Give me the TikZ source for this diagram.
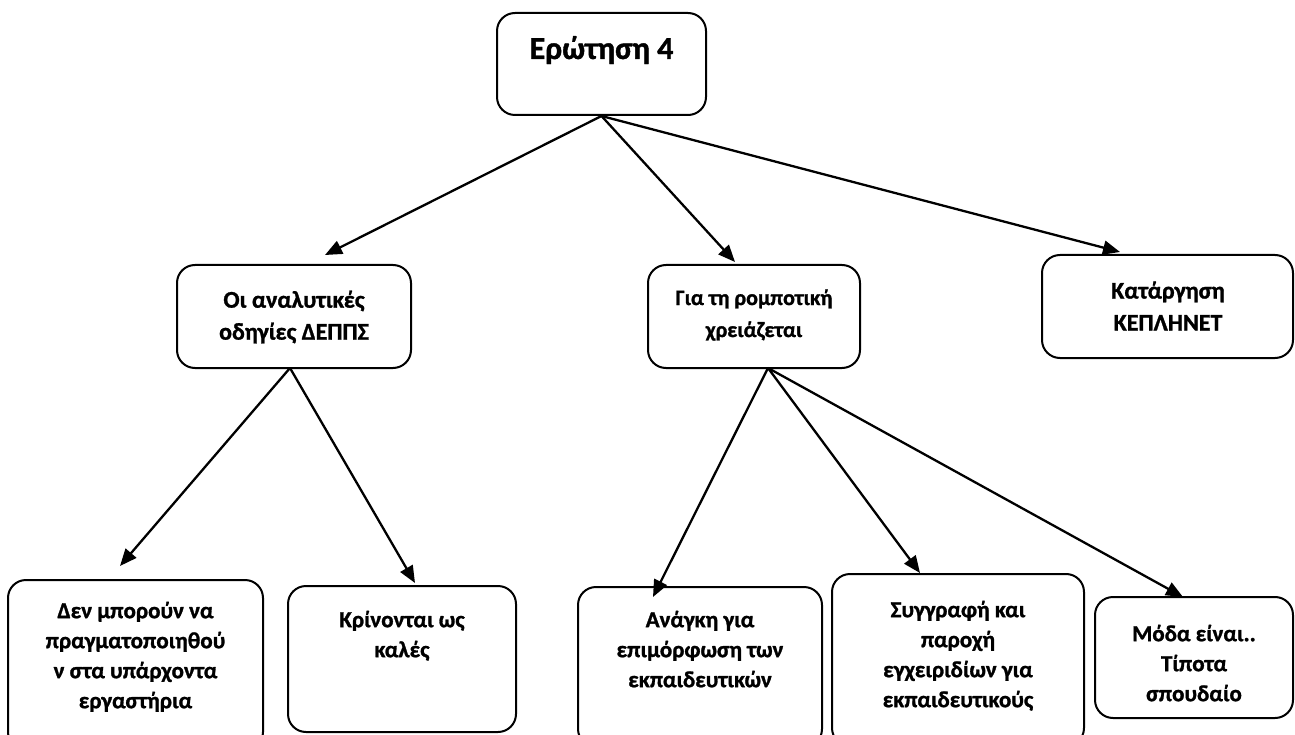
\documentclass[tikz,border=0pt]{standalone}
\usepackage{fontspec}
\setmainfont{Carlito}[BoldFeatures={FakeBold=1.2}]
\usetikzlibrary{arrows.meta}
\begin{document}
\begin{tikzpicture}[x=1pt,y=-1pt,
  box/.style={draw, line width=2pt, rounded corners=18pt, inner sep=0pt},
  txt/.style={inner sep=0pt, align=center, font=\bfseries\fontsize{23}{30}\selectfont},
  bigtxt/.style={txt, font=\bfseries\fontsize{24}{32}\selectfont},
  midtxt/.style={txt, font=\bfseries\fontsize{22}{32}\selectfont},
  title/.style={inner sep=0pt, font=\bfseries\fontsize{32}{38}\selectfont},
  conn/.style={line width=2.3pt, -{Triangle[length=17pt,width=14pt]}}]
\clip (0,0) rectangle (1295,735);
\fill[white] (0,0) rectangle (1295,735);

% boxes
\node[box, minimum width=209pt, minimum height=102pt] (T) at (601.5,64) {};
\node[box, minimum width=234pt, minimum height=103pt] (A) at (294,316.5) {};
\node[box, minimum width=212pt, minimum height=103pt] (B) at (754,316.5) {};
\node[box, minimum width=251pt, minimum height=103pt] (C) at (1167.5,306.5) {};
\node[box, minimum width=255pt, minimum height=170pt] (D) at (135.5,665) {};
\node[box, minimum width=228pt, minimum height=146pt] (E) at (402,659) {};
\node[box, minimum width=244pt, minimum height=160pt] (F) at (700,667) {};
\node[box, minimum width=252pt, minimum height=172pt] (G) at (958,660) {};
\node[box, minimum width=198pt, minimum height=121pt] (H) at (1194,657.5) {};

% texts
\node[title, anchor=base] (Tt) at (601.5,59) {Ερώτηση 4};
\node[bigtxt] (At) at (294,317) {Οι αναλυτικές\\οδηγίες ΔΕΠΠΣ};
\node[midtxt] (Bt) at (754,315) {Για τη ρομποτική\\χρειάζεται};
\node[bigtxt] (Ct) at (1168,306) {Κατάργηση\\ΚΕΠΛΗΝΕΤ};
\node[txt, anchor=north] (Dt) at (135.5,597) {\strut Δεν μπορούν να\\πραγματοποιηθού\\ν στα υπάρχοντα\\εργαστήρια};
\node[txt, anchor=north] (Et) at (402,606) {\strut Κρίνονται ως\\καλές};
\node[txt, anchor=north] (Ft) at (700,606) {\strut Ανάγκη για\\επιμόρφωση των\\εκπαιδευτικών};
\node[txt, anchor=north] (Gt) at (958,596) {\strut Συγγραφή και\\παροχή\\εγχειριδίων για\\εκπαιδευτικούς};
\node[txt, anchor=north] (Ht) at (1194,620) {\strut Μόδα είναι..\\Τίποτα\\σπουδαίο};

% connector end points
\coordinate (aOut) at (290,368);
\coordinate (bOut) at (768,368);
\coordinate (tA) at (325,255);
\coordinate (tB) at (735,262);
\coordinate (tC) at (1120,252);
\coordinate (tD) at (120,566);
\coordinate (tE) at (415,583);
\coordinate (tF) at (653,597);
\coordinate (tG) at (920,573);
\coordinate (tH) at (1183,597);

% connectors
\draw[conn] (T.south) -- (tA);
\draw[conn] (T.south) -- (tB);
\draw[conn] (T.south) -- (tC);
\draw[conn] (aOut) -- (tD);
\draw[conn] (aOut) -- (tE);
\draw[conn] (bOut) -- (tF);
\draw[conn] (bOut) -- (tG);
\draw[conn] (bOut) -- (tH);
\end{tikzpicture}
\end{document}
